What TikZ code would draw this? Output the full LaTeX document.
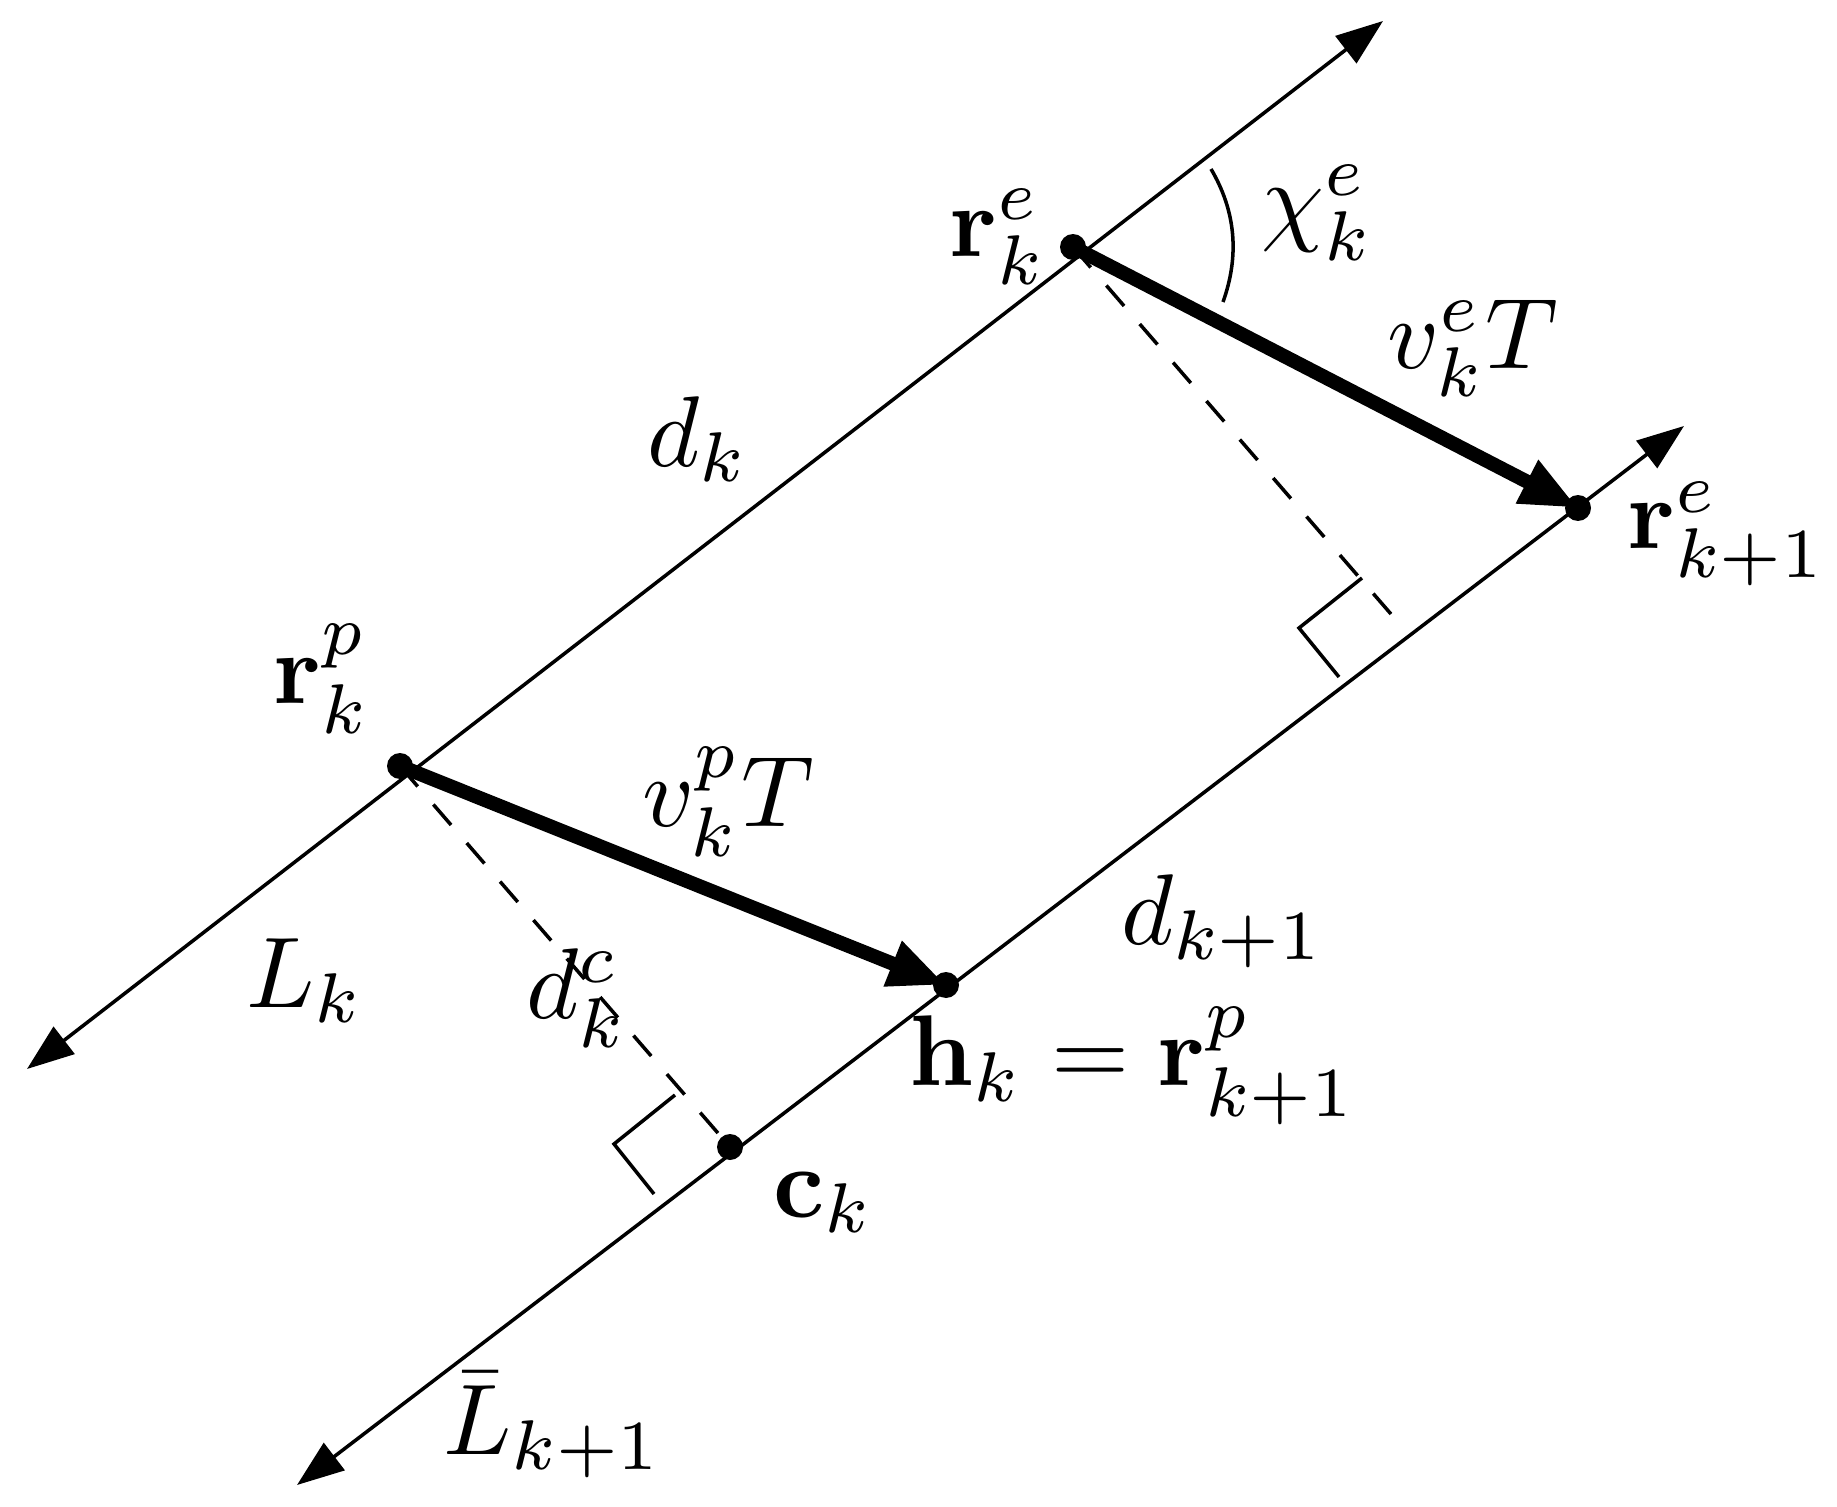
\documentclass[tikz,border=0pt]{standalone}
\usepackage{amsmath}
\usetikzlibrary{arrows.meta}
\newcommand{\lab}[1]{\scalebox{5.72}{$#1$}}
\tikzset{
  thinline/.style={line width=2pt,line cap=butt},
  axis/.style={thinline,{Triangle[length=0.94cm,width=0.68cm]}-{Triangle[length=0.94cm,width=0.68cm]}},
  bold/.style={line width=8pt,-{Triangle[length=1.15cm,width=0.9cm]},line join=round},
  dashline/.style={thinline,dash pattern=on 15.4pt off 13.6pt},
  dot/.style={circle,fill=black,inner sep=0pt,minimum size=0.52cm},
  tag/.style={inner sep=0pt,outer sep=0pt}
}
\begin{document}
\begin{tikzpicture}[x=0.02cm,y=-0.02cm]
\useasboundingbox (0,0) rectangle (1837,1507);
% free ends
\coordinate (la) at (27,1069);
\coordinate (lb) at (1383,21);
\coordinate (ma) at (297,1485);
\coordinate (mb) at (1684,426);
\coordinate (foot) at (1397,621);
\coordinate (q1a) at (1362,578);
\coordinate (q1b) at (1299,628);
\coordinate (q1c) at (1339,677);
\coordinate (q2a) at (675,1095);
\coordinate (q2b) at (614,1144);
\coordinate (q2c) at (654,1194);
\coordinate (arca) at (1211,169);
\coordinate (arcc1) at (1235.7,211);
\coordinate (arcc2) at (1239.7,255.3);
\coordinate (arcb) at (1223,302);
% points
\node[dot] (rek) at (1073,247) {};
\node[dot] (rekn) at (1578,508) {};
\node[dot] (rpk) at (400,766) {};
\node[dot] (hk) at (946,985) {};
\node[dot] (ck) at (730,1147) {};
% connectors
\draw[axis] (la) -- (lb);
\draw[axis] (ma) -- (mb);
\draw[dashline] (rek.center) -- (foot);
\draw[dashline] (rpk.center) -- (ck.center);
\draw[thinline] (q1a) -- (q1b) -- (q1c);
\draw[thinline] (q2a) -- (q2b) -- (q2c);
\draw[thinline] (arca) .. controls (arcc1) and (arcc2) .. (arcb);
\draw[bold] (rek.center) -- (rekn.center);
\draw[bold] (rpk.center) -- (hk.center);
% labels
\node[tag] (t1) at (998,237) {\lab{\mathbf{r}_k^e}};
\node[tag] (t2) at (1318,213) {\lab{\chi_k^e}};
\node[tag] (t3) at (1473,348) {\lab{v_k^eT}};
\node[tag] (t4) at (1727,534) {\lab{\mathbf{r}_{k+1}^e}};
\node[tag] (t5) at (698,439) {\lab{d_k}};
\node[tag] (t6) at (322,679) {\lab{\mathbf{r}_k^p}};
\node[tag] (t7) at (728,802) {\lab{v_k^pT}};
\node[tag] (t8) at (1223,921) {\lab{d_{k+1}}};
\node[tag] (t9) at (305,981) {\lab{L_k}};
\node[tag] (t10) at (577,998) {\lab{d_k^c}};
\node[tag] (t11) at (1133,1066) {\lab{\mathbf{h}_k=\mathbf{r}_{k+1}^p}};
\node[tag] (t12) at (824,1203) {\lab{\mathbf{c}_k}};
\node[tag] (t13) at (553,1425) {\lab{\bar{L}_{k+1}}};
\end{tikzpicture}
\end{document}
